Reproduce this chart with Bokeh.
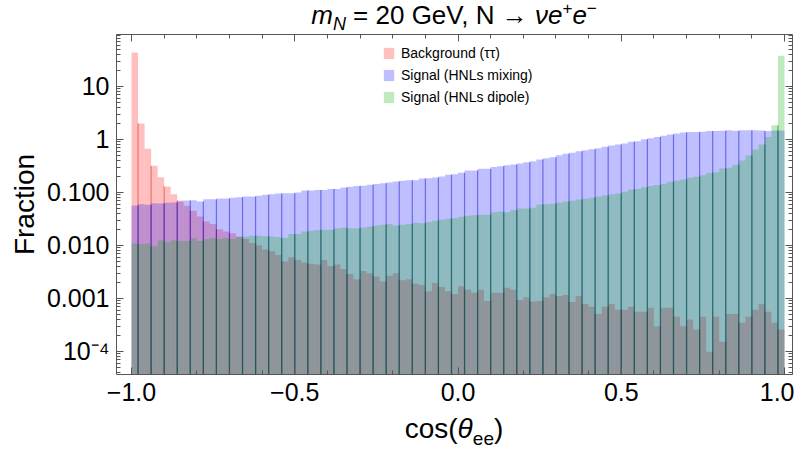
from bokeh.plotting import figure
from bokeh.layouts import column
from bokeh.models import (Range1d, FixedTicker, LinearAxis, LogAxis, Div,
                          Legend, LegendItem, ColumnDataSource, CustomJSTickFormatter)
from bokeh.embed import file_html
from bokeh.resources import INLINE

# ---------------- data ----------------
bin_start = -1.0
bin_width = 0.02

background_tautau = [
    44, 2.0, 0.67, 0.32, 0.194, 0.130, 0.093, 0.0706, 0.056, 0.045,
    0.0352, 0.0284, 0.0253, 0.0203, 0.0184, 0.0171, 0.0148, 0.0132, 0.0111, 0.0101,
    0.0084, 0.0078, 0.0066, 0.0050, 0.0060, 0.0053, 0.0048, 0.0045, 0.0044, 0.0053,
    0.0041, 0.0044, 0.0036, 0.0029, 0.0023, 0.0033, 0.0030, 0.0026, 0.0021, 0.0027,
    0.0030, 0.0022, 0.0023, 0.0019, 0.0018, 0.00137, 0.00195, 0.00164, 0.00137, 0.00121,
    0.00171, 0.00146, 0.00128, 0.00146, 0.00090, 0.00128, 0.00128, 0.00159, 0.00146, 0.00094,
    0.00106, 0.00088, 0.00090, 0.00106, 0.00122, 0.00112, 0.00116, 0.00086, 0.00112, 0.00079,
    0.00070, 0.00051, 0.00070, 0.00079, 0.00061, 0.00061, 0.00070, 0.00056, 0.00056, 0.00067,
    0.00030, 0.00067, 0.00067, 0.00045, 0.00030, 0.00040, 0.00026, 0.00045, 0.000099, 0.00045,
    0.000152, 0.00051, 0.00051, 0.00035, 0.00045, 0.00061, 0.00079, 0.00056, 0.00035, 0.00026,
]

signal_mixing = [
    0.0569, 0.0603, 0.0585, 0.0629, 0.0620, 0.0638, 0.0647, 0.0676, 0.0706, 0.0716,
    0.0676, 0.0748, 0.0748, 0.0771, 0.0771, 0.0793, 0.0817, 0.0841, 0.0841, 0.0866,
    0.0904, 0.0931, 0.0957, 0.0971, 0.0971, 0.100, 0.109, 0.109, 0.111, 0.112,
    0.116, 0.117, 0.124, 0.128, 0.132, 0.134, 0.140, 0.144, 0.150, 0.154,
    0.161, 0.166, 0.171, 0.171, 0.184, 0.186, 0.192, 0.200, 0.215, 0.222,
    0.235, 0.260, 0.260, 0.280, 0.280, 0.301, 0.314, 0.328, 0.338, 0.352,
    0.373, 0.390, 0.419, 0.445, 0.464, 0.506, 0.537, 0.560, 0.603, 0.629,
    0.657, 0.686, 0.727, 0.770, 0.805, 0.841, 0.904, 0.930, 1.01, 1.06,
    1.11, 1.17, 1.24, 1.30, 1.36, 1.38, 1.38, 1.40, 1.44, 1.44,
    1.46, 1.50, 1.46, 1.50, 1.50, 1.50, 1.48, 1.44, 1.48, 1.48,
]

signal_dipole = [
    0.0109, 0.0106, 0.0109, 0.0097, 0.0126, 0.0116, 0.0126, 0.0121, 0.0121, 0.0138,
    0.0121, 0.0132, 0.0138, 0.0132, 0.0138, 0.0132, 0.0144, 0.0148, 0.0152, 0.0152,
    0.0150, 0.0148, 0.0144, 0.0138, 0.0164, 0.0164, 0.0184, 0.0189, 0.0195, 0.0198,
    0.0198, 0.0212, 0.0219, 0.0212, 0.0212, 0.0219, 0.0228, 0.0238, 0.0245, 0.0253,
    0.0238, 0.0245, 0.0253, 0.0268, 0.0264, 0.0276, 0.0292, 0.0305, 0.0319, 0.0328,
    0.0348, 0.0363, 0.0373, 0.0379, 0.0379, 0.0426, 0.0438, 0.0426, 0.0465, 0.0499,
    0.0499, 0.0514, 0.0594, 0.0603, 0.0611, 0.0648, 0.0677, 0.0696, 0.0738, 0.0760,
    0.0793, 0.0841, 0.0878, 0.0930, 0.0957, 0.103, 0.114, 0.117, 0.126, 0.132,
    0.138, 0.146, 0.159, 0.166, 0.176, 0.189, 0.198, 0.212, 0.232, 0.242,
    0.284, 0.292, 0.333, 0.402, 0.499, 0.647, 0.805, 1.12, 1.86, 38.0,
]

series_labels = ["Background (\u03c4\u03c4)", "Signal (HNLs mixing)", "Signal (HNLs dipole)"]

x_major_ticks = [-1.0, -0.5, 0.0, 0.5, 1.0]
x_tick_labels = ["\u22121.0", "\u22120.5", "0.0", "0.5", "1.0"]
y_major_ticks = [1e-4, 1e-3, 1e-2, 1e-1, 1.0, 10.0]
y_tick_labels = ["10\u207b\u2074", "0.001", "0.010", "0.100", "1", "10"]

SUB = "font-size:18px;line-height:0"
SUP = "font-size:17px;line-height:0"
title_html = (f"<i>m</i><sub style='{SUB}'><i>N</i></sub> = 20 GeV, N \u2192 "
              f"<i>\u03bde</i><sup style='{SUP}'>+</sup>"
              f"<i>e</i><sup style='{SUP}'>\u2212</sup>")
xlabel_html = "cos(<i>\u03b8</i><sub style='font-size:19px;line-height:0'>ee</sub>)"

# ---------------- styling ----------------
FONT = "Liberation Sans"
AX = "#555555"
fill_colors = ["#ff0000", "#0000ff", "#00aa00"]
seam_colors = ["#c80000", "#0000c8", "#006432"]
seam_alphas = [0.40, 0.45, 0.50]
BAR_BOTTOM = 1e-6
X0, X1 = -1.046, 1.0245
Y0, Y1 = 3.68e-5, 95.7
LEFT, RIGHT, TOP, BOTTOM = 116, 2, 4, 40
FRAME_W, FRAME_H = 676, 340
WIDTH = LEFT + FRAME_W + RIGHT
HEIGHT = TOP + FRAME_H + BOTTOM

p = figure(width=WIDTH, height=HEIGHT,
           x_range=Range1d(X0, X1), y_range=Range1d(Y0, Y1),
           y_axis_type="log", output_backend="svg", toolbar_location=None,
           min_border_left=LEFT, min_border_right=RIGHT, min_border_top=TOP,
           min_border_bottom=BOTTOM, background_fill_color="white",
           border_fill_color="white", margin=(0, 0, 0, 0))
p.xgrid.visible = False
p.ygrid.visible = False
p.outline_line_color = None

n = len(background_tautau)
centers = [bin_start + bin_width * (i + 0.5) for i in range(n)]

renderers = []
for vals, fc, sc, sa in zip([background_tautau, signal_mixing, signal_dipole],
                            fill_colors, seam_colors, seam_alphas):
    src = ColumnDataSource(dict(x=centers, top=vals))
    r = p.vbar(x="x", top="top", bottom=BAR_BOTTOM, width=bin_width, source=src,
               fill_color=fc, fill_alpha=0.25, line_color=None)
    renderers.append(r)
    # visible bar seams (every other bin edge, as in the original rendering)
    sx, sy = [], []
    for e in range(1, n, 2):
        sx.append(bin_start + bin_width * e)
        sy.append(min(vals[e - 1], vals[e]))
    p.segment(x0=sx, y0=[BAR_BOTTOM] * len(sx), x1=sx, y1=sy,
              line_color=sc, line_alpha=sa, line_width=1.2)

# ---------------- axes ----------------
x_minor = [round(-1.0 + 0.1 * k, 2) for k in range(0, 21)]
y_minor = [m * 10.0 ** d for d in range(-5, 2) for m in range(2, 10)]


def style_axis(ax):
    ax.axis_line_color = AX
    ax.major_tick_line_color = AX
    ax.minor_tick_line_color = AX
    ax.major_tick_in = 7
    ax.major_tick_out = 0
    ax.minor_tick_in = 4
    ax.minor_tick_out = 0
    ax.major_label_text_font = FONT
    ax.major_label_text_font_size = "25px"
    ax.major_label_text_color = "black"


xa = p.xaxis[0]
xa.ticker = FixedTicker(ticks=x_major_ticks, minor_ticks=x_minor)
xa.major_label_overrides = {t: s for t, s in zip(x_major_ticks, x_tick_labels)}
style_axis(xa)
xa.major_label_standoff = 8

ya = p.yaxis[0]
ya.ticker = FixedTicker(ticks=y_major_ticks, minor_ticks=y_minor)
ya.major_label_overrides = {t: s for t, s in zip(y_major_ticks, y_tick_labels)}
style_axis(ya)
ya.major_label_standoff = 7
ya.axis_label = "Fraction"
ya.axis_label_text_font = FONT
ya.axis_label_text_font_size = "28px"
ya.axis_label_text_font_style = "normal"
ya.axis_label_text_color = "black"
ya.axis_label_standoff = 4

top_ax = LinearAxis(ticker=FixedTicker(ticks=x_major_ticks, minor_ticks=x_minor),
                    formatter=CustomJSTickFormatter(code="return ''"))
style_axis(top_ax)
top_ax.major_label_standoff = 0
top_ax.major_label_text_font_size = "2px"
p.add_layout(top_ax, "above")
right_ax = LogAxis(ticker=FixedTicker(ticks=y_major_ticks, minor_ticks=y_minor),
                   formatter=CustomJSTickFormatter(code="return ''"))
style_axis(right_ax)
right_ax.major_label_standoff = 0
right_ax.major_label_text_font_size = "2px"
p.add_layout(right_ax, "right")

# ---------------- legend ----------------
legend = Legend(items=[LegendItem(label=l, renderers=[r]) for l, r in zip(series_labels, renderers)],
                location=(266, 269), orientation="vertical",
                border_line_color=None, background_fill_alpha=0,
                padding=0, margin=0, spacing=6, glyph_width=13, glyph_height=14,
                label_height=14, label_standoff=6, label_text_font=FONT,
                label_text_font_size="14px", label_text_color="black")
p.add_layout(legend)

# ---------------- title and x label (rich text) ----------------
common = {"font-family": FONT, "color": "black", "text-align": "center",
          "white-space": "nowrap", "overflow": "visible"}
title_div = Div(text=title_html, width=FRAME_W, height=30, margin=(0, 0, 0, LEFT),
                styles=dict(common, **{"font-size": "26px", "line-height": "30px"}))
xlabel_div = Div(text=xlabel_html, width=FRAME_W, height=30, margin=(0, 0, 0, LEFT),
                 styles=dict(common, **{"font-size": "28px", "line-height": "30px"}))

layout = column(title_div, p, xlabel_div, spacing=0, margin=(0, 0, 0, 0))

open("out.html", "w").write(file_html(layout, INLINE))
